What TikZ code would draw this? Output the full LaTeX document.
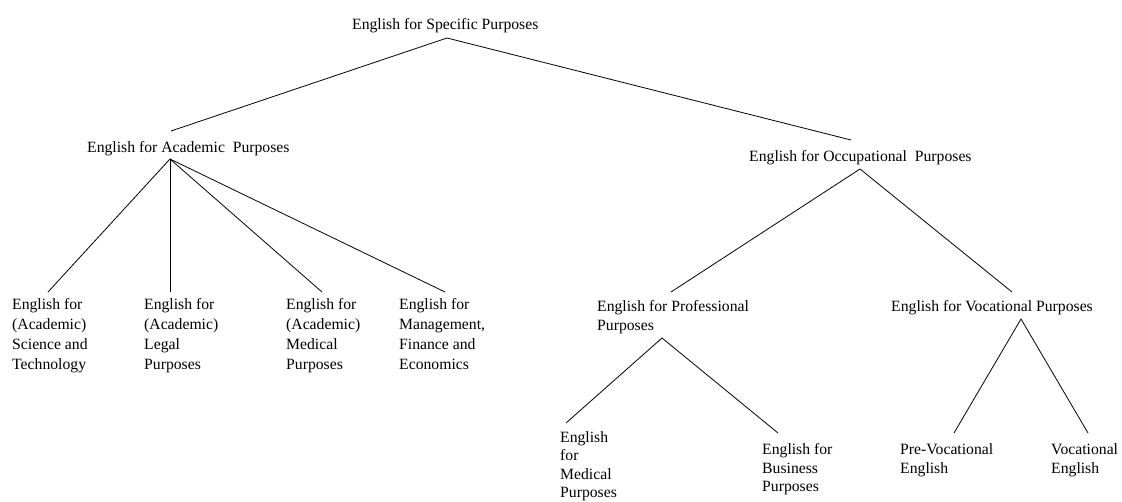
\documentclass[tikz,border=0pt]{standalone}
\usepackage{fontspec}
\setmainfont{Liberation Serif}
\tikzset{
  lbl/.style={anchor=base west, inner sep=0pt, align=left, font=\fontsize{15.7}{18.5}\selectfont},
  multi/.style={lbl, anchor=north west},
  multiwide/.style={multi, font=\fontsize{15.7}{19.8}\selectfont},
  link/.style={line width=0.8pt, black}
}
\begin{document}
\begin{tikzpicture}[x=1pt,y=-1pt]
\useasboundingbox (0,0) rectangle (1122,501);
% labels
\node[lbl] (esp) at (352,29) {English for Specific Purposes};
\node[lbl] (eap) at (87,152) {English for Academic\ \ Purposes};
\node[lbl] (eop) at (749,161) {English for Occupational\ \ Purposes};
\node[multiwide] (est) at (12,298.5) {English for\\(Academic)\\Science and\\Technology};
\node[multiwide] (elp) at (144,298.5) {English for\\(Academic)\\Legal\\Purposes};
\node[multiwide] (emp) at (286,298.5) {English for\\(Academic)\\Medical\\Purposes};
\node[multiwide] (emf) at (399,298.5) {English for\\Management,\\Finance and\\Economics};
\node[multi] (epp) at (597,300.5) {English for Professional\\Purposes};
\node[lbl] (evp) at (891,311.5) {English for Vocational Purposes};
\node[multi, font=\fontsize{15.7}{18.2}\selectfont] (emed) at (560,431.5) {English\\for\\Medical\\Purposes};
\node[multi] (ebp) at (762,443.5) {English for\\Business\\Purposes};
\node[multi] (pve) at (900,443.5) {Pre-Vocational\\English};
\node[multi] (ve) at (1051,443.5) {Vocational\\English};
% junction points
\coordinate (espJ) at (447,38);
\coordinate (eapT) at (171,131);
\coordinate (eapJ) at (170,159);
\coordinate (eopT) at (851,140);
\coordinate (eopJ) at (860,169);
\coordinate (estT) at (48,292);
\coordinate (elpT) at (170,292);
\coordinate (empT) at (322,292);
\coordinate (emfT) at (445,292);
\coordinate (eppT) at (671,292);
\coordinate (eppJ) at (662,338);
\coordinate (evpT) at (1012,292);
\coordinate (evpJ) at (1021,319);
\coordinate (emedT) at (566,423);
\coordinate (ebpT) at (778,433);
\coordinate (pveT) at (954,433);
\coordinate (veT) at (1088,433);
% connectors
\draw[link] (eapT) -- (espJ) -- (eopT);
\draw[link] (estT) -- (eapJ);
\draw[link] (elpT) -- (eapJ);
\draw[link] (empT) -- (eapJ);
\draw[link] (emfT) -- (eapJ);
\draw[link] (eppT) -- (eopJ) -- (evpT);
\draw[link] (emedT) -- (eppJ) -- (ebpT);
\draw[link] (pveT) -- (evpJ) -- (veT);
\end{tikzpicture}
\end{document}
